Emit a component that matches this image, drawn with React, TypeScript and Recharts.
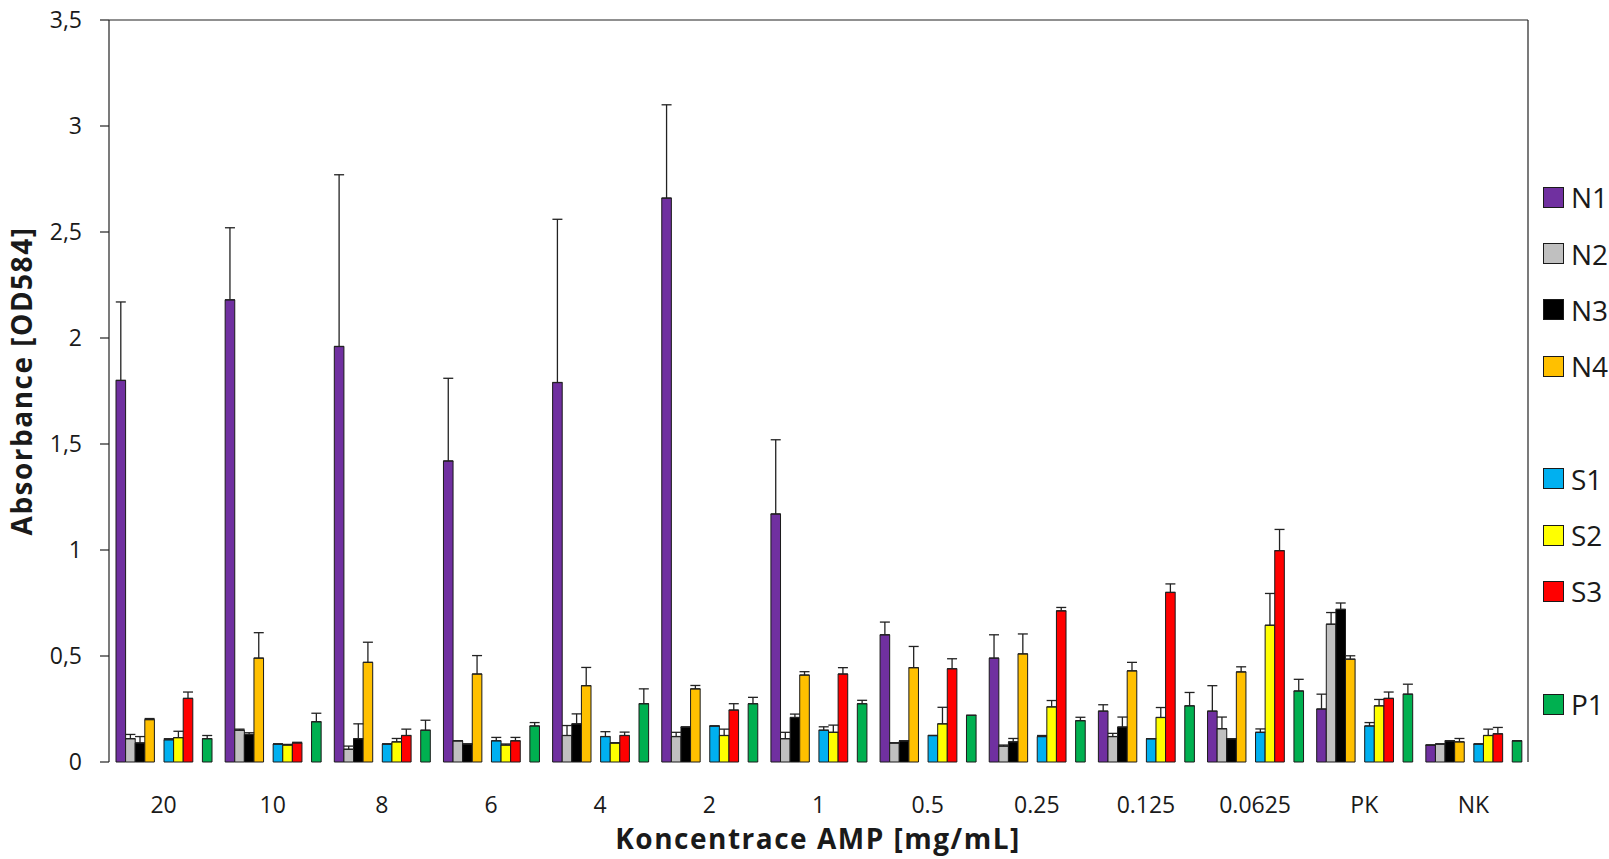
import { BarChart, Bar, XAxis, YAxis, ErrorBar, ReferenceLine, Customized } from "recharts"

// concentrations on the x axis
const categories = ["20", "10", "8", "6", "4", "2", "1", "0.5", "0.25", "0.125", "0.0625", "PK", "NK"]

// mean absorbance per strain
const n1 = [1.8, 2.18, 1.96, 1.42, 1.79, 2.66, 1.17, 0.6, 0.49, 0.24, 0.24, 0.25, 0.08]
const n2 = [0.11, 0.15, 0.06, 0.1, 0.125, 0.12, 0.11, 0.09, 0.075, 0.12, 0.157, 0.65, 0.085]
const n3 = [0.09, 0.13, 0.11, 0.085, 0.18, 0.165, 0.21, 0.1, 0.095, 0.165, 0.11, 0.72, 0.1]
const n4 = [0.2, 0.49, 0.47, 0.415, 0.36, 0.345, 0.41, 0.445, 0.51, 0.43, 0.425, 0.485, 0.095]
const s1 = [0.105, 0.085, 0.085, 0.1, 0.12, 0.17, 0.15, 0.125, 0.12, 0.11, 0.14, 0.17, 0.085]
const s2 = [0.115, 0.08, 0.095, 0.08, 0.09, 0.125, 0.14, 0.18, 0.26, 0.21, 0.645, 0.265, 0.125]
const s3 = [0.3, 0.09, 0.125, 0.1, 0.125, 0.245, 0.415, 0.44, 0.713, 0.8, 0.997, 0.3, 0.133]
const p1 = [0.11, 0.19, 0.15, 0.17, 0.275, 0.275, 0.275, 0.22, 0.195, 0.265, 0.335, 0.32, 0.1]

// standard deviations (plus direction only)
const n1Err = [0.37, 0.34, 0.81, 0.39, 0.77, 0.44, 0.35, 0.06, 0.11, 0.03, 0.12, 0.07, 0]
const n2Err = [0.02, 0.005, 0.015, 0, 0.047, 0.02, 0.03, 0, 0.005, 0.015, 0.055, 0.055, 0]
const n3Err = [0.03, 0.008, 0.07, 0, 0.047, 0, 0.016, 0, 0.016, 0.047, 0, 0.03, 0]
const n4Err = [0.005, 0.12, 0.095, 0.087, 0.086, 0.016, 0.016, 0.1, 0.094, 0.04, 0.024, 0.016, 0.016]
const s1Err = [0.005, 0, 0, 0.016, 0.023, 0, 0.016, 0, 0.005, 0, 0.016, 0.016, 0]
const s2Err = [0.03, 0.003, 0.016, 0.005, 0, 0.03, 0.034, 0.078, 0.03, 0.047, 0.15, 0.03, 0.03]
const s3Err = [0.03, 0.003, 0.03, 0.016, 0.016, 0.03, 0.03, 0.047, 0.016, 0.04, 0.1, 0.03, 0.03]
const p1Err = [0.015, 0.04, 0.047, 0.016, 0.07, 0.03, 0.016, 0, 0.016, 0.063, 0.055, 0.047, 0]

const yTicks = [0, 0.5, 1, 1.5, 2, 2.5, 3, 3.5]
const yMax = 3.5

// null = empty slot (spacing between groups, like in the excel original)
const seriesOrder = ["N1", "N2", "N3", "N4", null, "S1", "S2", "S3", null, "P1"]

const colors: Record<string, string> = {
  N1: "#7030A0",
  N2: "#C0C0C0",
  N3: "#000000",
  N4: "#FFC000",
  S1: "#00B0F0",
  S2: "#FFFF00",
  S3: "#FF0000",
  P1: "#00B050",
}

const values: Record<string, number[]> = { N1: n1, N2: n2, N3: n3, N4: n4, S1: s1, S2: s2, S3: s3, P1: p1 }
const errors: Record<string, number[]> = {
  N1: n1Err, N2: n2Err, N3: n3Err, N4: n4Err, S1: s1Err, S2: s2Err, S3: s3Err, P1: p1Err,
}

const data = categories.map((cat, i) => {
  const row: Record<string, any> = { cat }
  Object.keys(values).forEach((k) => {
    row[k] = values[k][i]
    row[k + "Err"] = [0, errors[k][i]]
  })
  return row
})

const edgeTicks = categories.map((_, i) => i).concat(categories.length)

const font = "'Open Sans', sans-serif"
const textColor = "#1a1a1a"
const lineColor = "#222"

const Titles = () => (
  <g>
    <text
      x={22}
      y={381}
      dy="0.357em"
      transform="rotate(-90 22 381)"
      textAnchor="middle"
      fontFamily={font}
      fontWeight={700}
      fontSize={28}
      letterSpacing={1.5}
      fill={textColor}
    >
      Absorbance [OD584]
    </text>
    <text
      x={818}
      y={839}
      dy="0.357em"
      textAnchor="middle"
      fontFamily={font}
      fontWeight={700}
      fontSize={28}
      letterSpacing={1.5}
      fill={textColor}
    >
      Koncentrace AMP [mg/mL]
    </text>
  </g>
)

export default function App() {
  return (
    <div
      style={{
        position: "absolute",
        left: 0,
        top: 0,
        width: 1609,
        height: 859,
        overflow: "hidden",
        background: "#fff",
      }}
    >
      <BarChart
        width={1609}
        height={859}
        data={data}
        margin={{ top: 20, right: 81, bottom: 0, left: 0 }}
        barGap={0}
        barSize={9.6}
      >
        <XAxis
          xAxisId="edge"
          type="number"
          domain={[0, categories.length]}
          ticks={edgeTicks}
          tick={false}
          tickSize={8}
          height={0}
          allowDataOverflow
          axisLine={{ stroke: lineColor, strokeWidth: 1.2 }}
          tickLine={{ stroke: lineColor, strokeWidth: 1.2 }}
        />
        <XAxis
          xAxisId="cat"
          dataKey="cat"
          interval={0}
          axisLine={false}
          tickLine={false}
          tickSize={0}
          tickMargin={35}
          height={97}
          tick={{ fill: textColor, fontSize: 23, fontFamily: font }}
        />
        <YAxis
          domain={[0, yMax]}
          ticks={yTicks}
          width={109}
          tickSize={9}
          tickMargin={18}
          tickFormatter={(v) => String(v).replace(".", ",")}
          axisLine={{ stroke: lineColor, strokeWidth: 1.2 }}
          tickLine={{ stroke: lineColor, strokeWidth: 1.2 }}
          tick={{ fill: textColor, fontSize: 23, fontFamily: font }}
        />
        {/* plot frame: top and right border */}
        <ReferenceLine y={yMax} xAxisId="edge" stroke={lineColor} strokeWidth={1.2} ifOverflow="visible" />
        <ReferenceLine
          x={categories[categories.length - 1]}
          xAxisId="cat"
          position="end"
          stroke={lineColor}
          strokeWidth={1.2}
          ifOverflow="visible"
        />
        {seriesOrder.map((key, slot) =>
          key ? (
            <Bar
              key={key}
              dataKey={key}
              xAxisId="cat"
              fill={colors[key]}
              stroke="#1a1a1a"
              strokeWidth={1}
              isAnimationActive={false}
            >
              <ErrorBar
                dataKey={key + "Err"}
                direction="y"
                width={5}
                stroke={lineColor}
                strokeWidth={1.3}
                isAnimationActive={false}
              />
            </Bar>
          ) : (
            <Bar key={"gap" + slot} dataKey={"gap" + slot} xAxisId="cat" isAnimationActive={false} />
          )
        )}
        <Customized component={Titles} />
      </BarChart>

      {seriesOrder.map((key, slot) =>
        key ? (
          <div
            key={key}
            style={{
              position: "absolute",
              left: 1543,
              top: 197.3 + 56.3 * slot - 15,
              height: 30,
              display: "flex",
              alignItems: "center",
              whiteSpace: "nowrap",
            }}
          >
            <span
              style={{
                display: "inline-block",
                width: 21,
                height: 21,
                boxSizing: "border-box",
                border: "1.3px solid #1a1a1a",
                background: colors[key],
              }}
            />
            <span
              style={{
                marginLeft: 7,
                fontFamily: font,
                fontSize: 28,
                lineHeight: "30px",
                color: textColor,
              }}
            >
              {key}
            </span>
          </div>
        ) : null
      )}
    </div>
  )
}
